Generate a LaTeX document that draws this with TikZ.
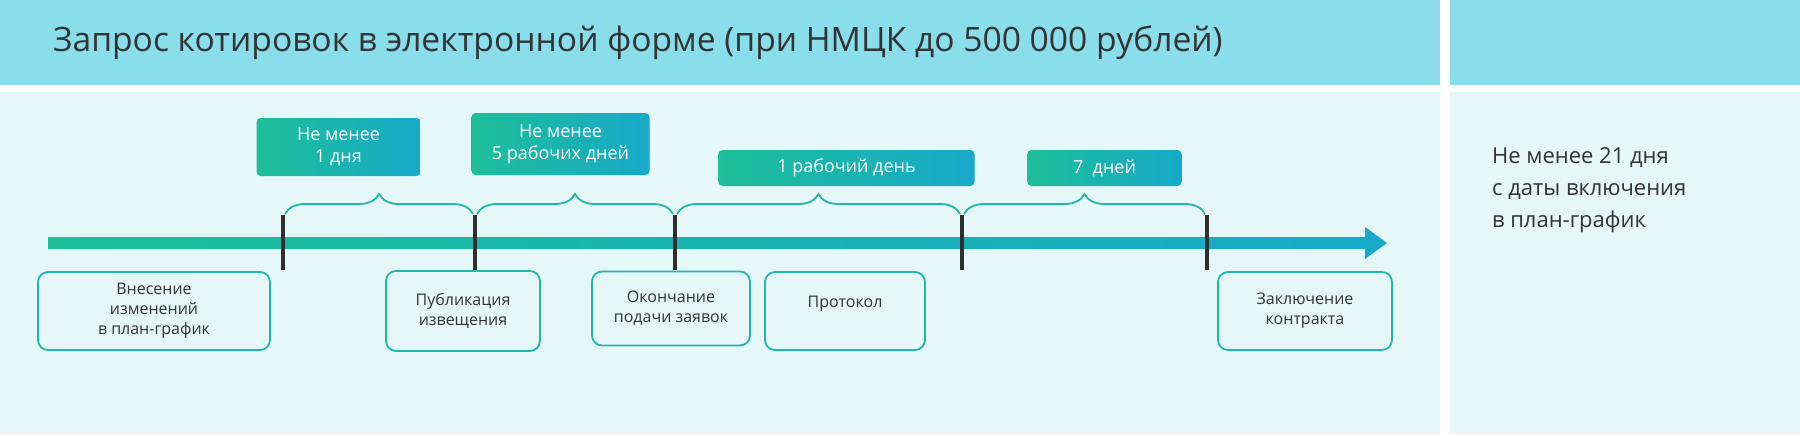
\documentclass[tikz,border=0pt]{standalone}
\usepackage{fontspec}
\setmainfont{Open Sans}
\usetikzlibrary{positioning,decorations.pathreplacing}
\definecolor{headcol}{HTML}{8ADDEA}
\definecolor{bodycol}{HTML}{E6F7FA}
\definecolor{grn}{HTML}{1DBE98}
\definecolor{blu}{HTML}{17A9C9}
\definecolor{tealline}{HTML}{20B8A8}
\definecolor{txt}{HTML}{333333}
\begin{document}
\begin{tikzpicture}[x=0.5pt,y=-0.5pt,
		term/.style={shading=axis,left color=grn,right color=blu,rounded corners=2pt,
			text=white,align=center,font=\fontsize{9}{11}\selectfont,inner sep=0pt},
		event/.style={draw=tealline,line width=0.9pt,rounded corners=5pt,fill=bodycol,
			text=txt,align=center,font=\fontsize{8}{10}\selectfont,inner sep=0pt},
		tick/.style={line width=1.6pt,draw=txt!90!black},
		span/.style={decorate,decoration={brace,amplitude=10pt,aspect=0.5},draw=tealline,line width=0.9pt}
	]
	\useasboundingbox (0,0) rectangle (1800,434);
	% background
	\fill[headcol] (0,0) rectangle (1440,85);
	\fill[headcol] (1450,0) rectangle (1800,85);
	\fill[bodycol] (0,92) rectangle (1440,434);
	\fill[bodycol] (1450,92) rectangle (1800,434);
	\node[anchor=west,text=txt,font=\fontsize{16.8}{19}\selectfont] (title) at (46,43)
		{Запрос котировок в электронной форме (при НМЦК до 500 000 рублей)};
	% time line
	\shade[left color=grn,right color=blu] (48,237) -- (1365,237) -- (1365,227) -- (1387,243)
		-- (1365,259) -- (1365,249) -- (48,249) -- cycle;
	\foreach \n/\x in {t1/283,t2/475,t3/675,t4/962,t5/1207}{
		\coordinate (\n) at (\x,243);
		\draw[tick] (\x,215) -- (\x,270);
	}
	% spans
	\draw[span] (285,214) -- (473,214);
	\draw[span] (477,214) -- (673,214);
	\draw[span] (677,214) -- (960,214);
	\draw[span] (964,214) -- (1205,214);
	\node[term,minimum width=82pt,minimum height=29pt] (d1) at (338.5,147) {Не менее\\1 дня};
	\node[term,minimum width=89pt,minimum height=31pt] (d2) at (560.5,144) {Не менее\\5 рабочих дней};
	\node[term,minimum width=128pt,minimum height=18pt] (d3) at (846.5,168) {1 рабочий день};
	\node[term,minimum width=77pt,minimum height=18pt] (d4) at (1104.5,168) {7\ \ дней};
	% events
	\node[event,minimum width=116pt,minimum height=39pt] (e1) at (154,311) {Внесение\\изменений\\в план-график};
	\node[event,minimum width=77pt,minimum height=40pt] (e2) at (463,311) {Публикация\\извещения};
	\node[event,minimum width=79pt,minimum height=37pt] (e3) at (671,308.5) {Окончание\\подачи заявок};
	\node[event,minimum width=80pt,minimum height=39pt] (e4) at (845,311) {};
	\node[text=txt,font=\fontsize{8}{10}\selectfont] (e4t) at (845,304) {Протокол};
	\node[event,minimum width=87pt,minimum height=39pt] (e5) at (1305,311) {Заключение\\контракта};
	% total
	\node[anchor=north west,text=txt,align=left,font=\fontsize{11}{16}\selectfont] (total) at (1485,140)
		{Не менее 21 дня\\с даты включения\\в план-график};
\end{tikzpicture}
\end{document}
